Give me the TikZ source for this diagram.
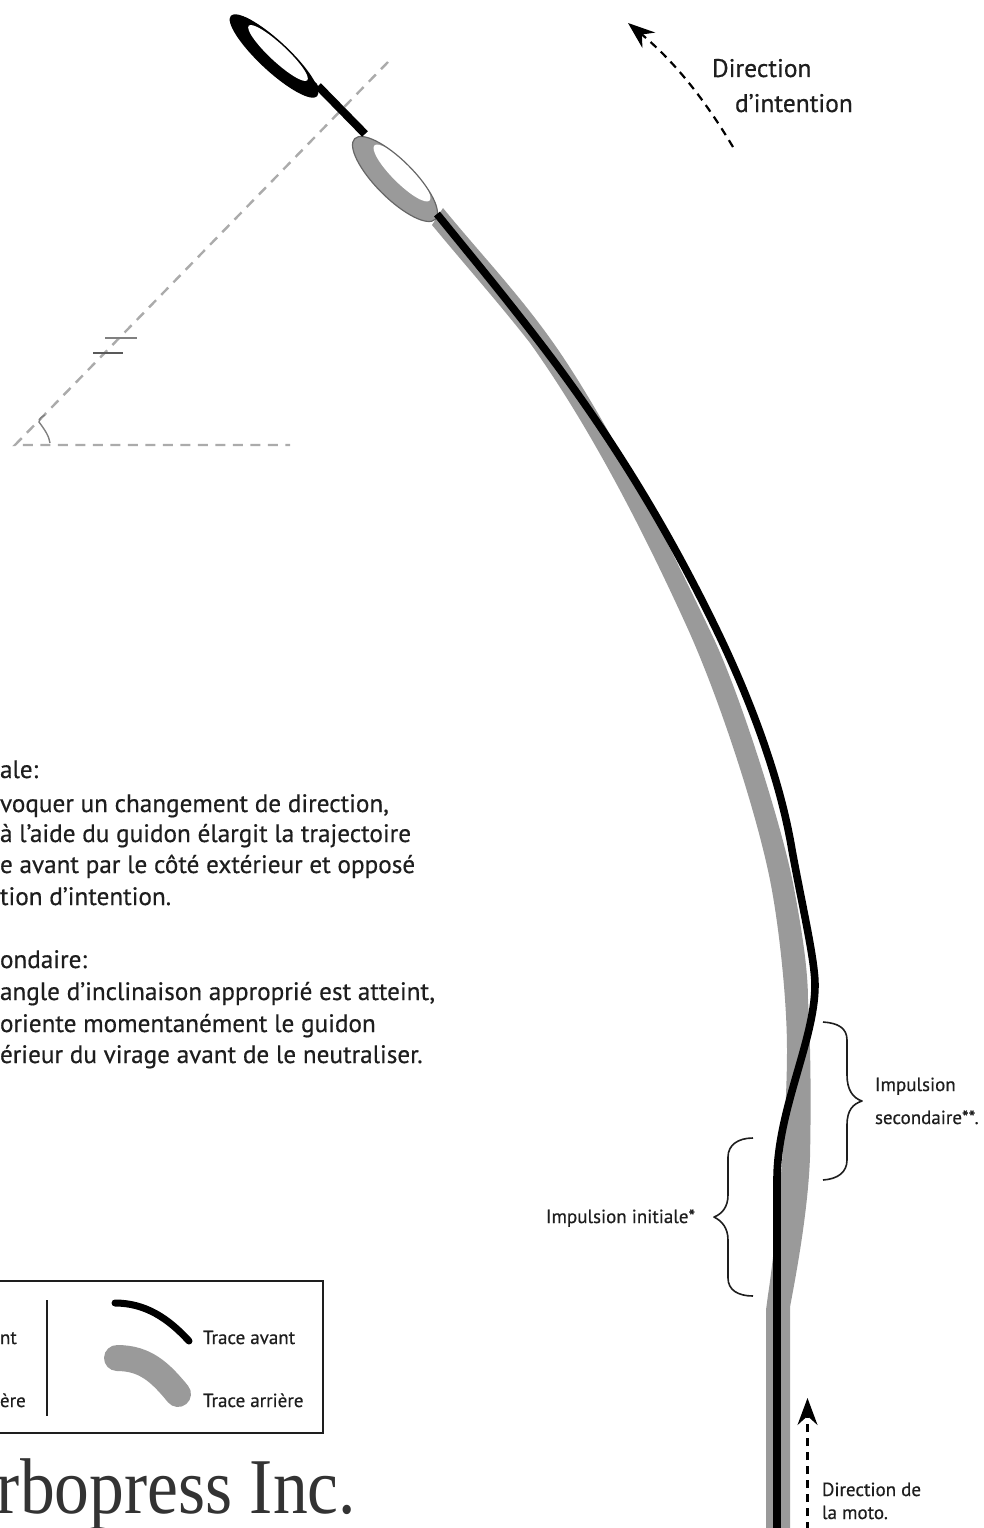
\documentclass[tikz,border=0pt]{standalone}
\usepackage{fontspec}
\setmainfont[FakeBold=0.5]{PT Sans}
\newfontfamily\logofont{Liberation Serif}
\usetikzlibrary{arrows.meta}
\definecolor{tracegray}{HTML}{9A9A9A}
\definecolor{dashgray}{HTML}{ABABAB}
\definecolor{inkdark}{HTML}{1E1E1E}
\tikzset{
  txt/.style={anchor=base west,inner sep=0pt,outer sep=0pt,text=inkdark},
  body/.style={txt,font=\fontsize{25.2}{30}\selectfont},
  dirlabel/.style={txt,font=\fontsize{25.5}{30}\selectfont},
  small/.style={txt,font=\fontsize{19}{22}\selectfont},
  frontline/.style={draw=black,line width=7.6pt,line join=round},
  refdash/.style={draw=dashgray,line width=2.4pt,dash pattern=on 10pt off 7.5pt},
  brace/.style={draw=inkdark,line width=1.6pt,line join=round},
  headarrow/.style={draw=black,line width=2.2pt,dash pattern=on 8pt off 6pt,-{Stealth[length=27pt,width=20pt,inset=9pt]}}
}
\begin{document}
\begin{tikzpicture}[x=1pt,y=-1pt]
\useasboundingbox (0,0) rectangle (984,1528);
\clip (0,0) rectangle (984,1528);
% reference angle
\coordinate (apex) at (15,445);
\coordinate (ang1) at (388,62);
\coordinate (ang2) at (290,445);
\draw[refdash] (ang1) -- (apex) -- (ang2);
\draw[draw=gray,line width=1.4pt] (45,415) .. controls (40,418) .. (39,422) .. controls (45,430) and (49,436) .. (50,443);
\draw[draw=gray,line width=1.6pt] (105,338) -- (137,338);
\draw[draw=gray!70!black,line width=1.6pt] (93,353) -- (123,353);
% rear trace
\fill[tracegray] (443,208)
 .. controls (483,257) and (525,300) .. (563,357)
 .. controls (613,432) and (668,542) .. (713,637)
 .. controls (740,694) and (781,823) .. (793,883)
 .. controls (802,930) and (808,970) .. (808,1000)
 .. controls (811,1050) and (811,1110) .. (810,1157)
 .. controls (808,1210) and (797,1270) .. (790,1307)
 -- (790,1530) -- (766,1530) -- (766,1310) -- (768,1295)
 .. controls (775,1250) and (787,1130) .. (787,1050)
 .. controls (787,1000) and (779,925) .. (770,880)
 .. controls (756,810) and (718,695) .. (687,627)
 .. controls (637,517) and (585,420) .. (530,343)
 .. controls (498,302) and (465,265) .. (432,225) -- cycle;
% rear ellipse
\fill[tracegray] (395,179) ellipse [x radius=57pt,y radius=19pt,rotate=-45];
\fill[white] (402,173) ellipse [x radius=39pt,y radius=10pt,rotate=-45];
\draw[draw=gray!80!black,line width=1.2pt] (395,179) ellipse [x radius=57pt,y radius=19pt,rotate=-45];
% front trace
\draw[frontline] (777,1530) -- (777,1180)
 .. controls (777,1110) and (815,1040) .. (815,985)
 .. controls (815,960) and (802,905) .. (792,850)
 .. controls (780,778) and (750,700) .. (720,637)
 .. controls (665,522) and (608,434) .. (553,360)
 .. controls (514,308) and (476,262) .. (437,214);
% front ellipse and link
\draw[draw=black,line width=8pt] (318,86) -- (365,134);
\fill[black] (274,56) ellipse [x radius=59pt,y radius=15pt,rotate=-43];
\fill[black] plot[smooth cycle] coordinates {(232,20) (240,16) (252,22) (242,38)};
\fill[black] plot[smooth cycle] coordinates {(298,72) (317,84) (316,95) (298,90)};
\fill[white] (278,53) ellipse [x radius=40pt,y radius=8.5pt,rotate=-43];
% braces
\draw[brace] (823,1022) .. controls (838,1023) and (847,1028) .. (847,1040) -- (847,1075) .. controls (847,1090) and (853,1098) .. (862,1101) .. controls (853,1104) and (847,1110) .. (847,1125) -- (847,1160) .. controls (847,1172) and (838,1179) .. (823,1180);
\draw[brace] (753,1138) .. controls (738,1138) and (728,1145) .. (728,1157) -- (728,1195) .. controls (728,1207) and (722,1214) .. (714,1217) .. controls (722,1221) and (728,1228) .. (728,1240) -- (728,1278) .. controls (728,1290) and (738,1296) .. (753,1296);
% direction arrows
\coordinate (intA) at (733,147);
\coordinate (intB) at (628,23);
\draw[headarrow] (intA) .. controls (705,100) and (675,62) .. (intB);
\coordinate (motoA) at (807.5,1530);
\coordinate (motoB) at (807.5,1398);
\draw[headarrow] (motoA) -- (motoB);
% labels
\node[dirlabel] (t1) at (712,77) {Direction};
\node[dirlabel] (t2) at (735,112) {d'intention};
\node[small] (t3) at (875,1091) {Impulsion};
\node[small] (t4) at (875,1124) {secondaire**.};
\node[small] (t5) at (546,1223) {Impulsion initiale*};
\node[small] (t6) at (822,1496) {Direction de};
\node[small] (t7) at (822,1519) {la moto.};
% body text
\node[body] (b1) at (0,778) {ale:};
\node[body] (b2) at (0,812) {voquer un changement de direction,};
\node[body] (b3) at (0,842) {à l’aide du guidon élargit la trajectoire};
\node[body] (b4) at (0,873) {e avant par le côté extérieur et opposé};
\node[body] (b5) at (0,905) {tion d’intention.};
\node[body] (b6) at (0,968) {ondaire:};
\node[body] (b7) at (0,1000) {angle d’inclinaison approprié est atteint,};
\node[body] (b8) at (0,1032) {oriente momentanément le guidon};
\node[body] (b9) at (0,1063) {érieur du virage avant de le neutraliser.};
% legend
\draw[draw=inkdark,line width=1.6pt] (-3,1281) rectangle (323,1433);
\draw[draw=inkdark,line width=1.6pt] (47,1300) -- (47,1416);
\draw[draw=black,line width=7pt,line cap=round] (115,1303) .. controls (145,1303) and (168,1318) .. (189,1341);
\draw[draw=tracegray,line width=26pt,line cap=round] (117,1358) .. controls (145,1358) and (160,1372) .. (178,1394);
\node[small] (l1) at (203,1344) {Trace avant};
\node[small] (l2) at (203,1407) {Trace arrière};
\node[small] (l3) at (0,1344) {nt};
\node[small] (l4) at (0,1407) {ère};
\node[txt,text=black!80,font=\logofont\fontsize{79}{90}\selectfont,xscale=0.88] (logo) at (-3,1513) {rbopress Inc.};
\end{tikzpicture}
\end{document}
